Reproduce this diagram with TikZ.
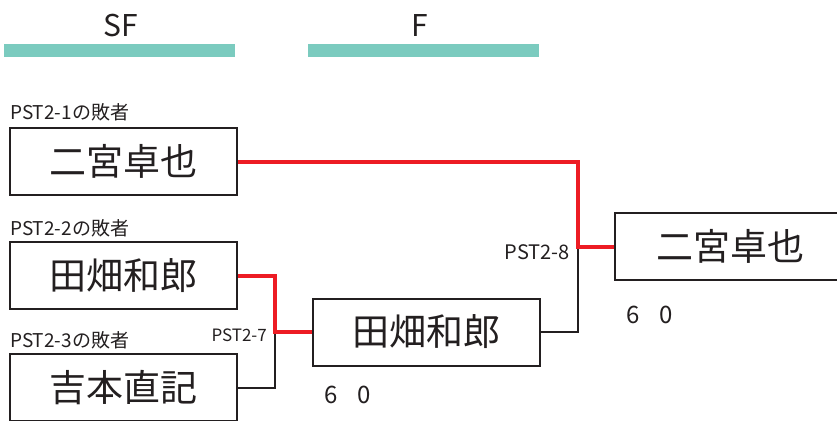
\documentclass[tikz,border=0pt]{standalone}
\usepackage{fontspec}
\setmainfont{Noto Sans CJK JP}
\definecolor{teal}{HTML}{7BCBBF}
\definecolor{winred}{HTML}{ED1C24}
\definecolor{ink}{HTML}{231F20}
\tikzset{
  player/.style={draw=ink, line width=2pt, minimum width=227pt, minimum height=67pt, inner sep=0pt, font=\fontsize{37}{40}\selectfont, text=ink},
  lbl/.style={inner sep=0pt, font=\fontsize{19}{22}\selectfont, text=ink},
  matchlbl/.style={inner sep=0pt, font=\fontsize{17}{20}\selectfont, text=ink},
  score/.style={inner sep=0pt, font=\fontsize{24}{26}\selectfont, text=ink},
  head/.style={inner sep=0pt, font=\fontsize{30}{32}\selectfont, text=ink},
  bar/.style={fill=teal, draw=none},
  win/.style={draw=winred, line width=4pt},
  lose/.style={draw=ink, line width=2pt},
}
\begin{document}
\begin{tikzpicture}[x=1pt,y=-1pt]
\useasboundingbox (0,0) rectangle (837,420);
\begin{scope}
\clip (0,0) rectangle (837,420);
% headers
\node[head, anchor=base] (hsf) at (121,37) {SF};
\node[head, anchor=base] (hf) at (420,37) {F};
\fill[bar] (4,44) rectangle (235,57);
\fill[bar] (308,44) rectangle (539,57);
% first round boxes
\node[player] (p1) at (123.5,161.5) {二宮卓也};
\node[player] (p2) at (123.5,275.5) {田畑和郎};
\node[player] (p3) at (123.5,387.5) {吉本直記};
\node[lbl, anchor=base west] (l1) at (10,119) {PST2-1の敗者};
\node[lbl, anchor=base west] (l2) at (10,235) {PST2-2の敗者};
\node[lbl, anchor=base west] (l3) at (10,347) {PST2-3の敗者};
% semifinal winner
\node[player] (sf) at (426,332) {田畑和郎};
% final winner
\node[player, minimum width=230pt] (fw) at (730,246.5) {二宮卓也};
% joints
\coordinate (j7) at (275,332);
\coordinate (j8) at (578,246.5);
% connectors
\draw[lose] (p3.east) -| (j7);
\draw[win] (p2.east) -| (j7) -- (sf.west);
\draw[lose] (sf.east) -| (j8);
\draw[win] (p1.east) -| (j8) -- (fw.west);
% match labels
\node[matchlbl, anchor=base east] (m7) at (267,341) {PST2-7};
\node[lbl, font=\fontsize{20}{22}\selectfont, anchor=base east] (m8) at (570,259) {PST2-8};
% scores
\node[score, anchor=base west] (s1) at (324,403) {6\hspace{20pt}0};
\node[score, anchor=base west] (s2) at (626,323) {6\hspace{20pt}0};
\end{scope}
\end{tikzpicture}
\end{document}
